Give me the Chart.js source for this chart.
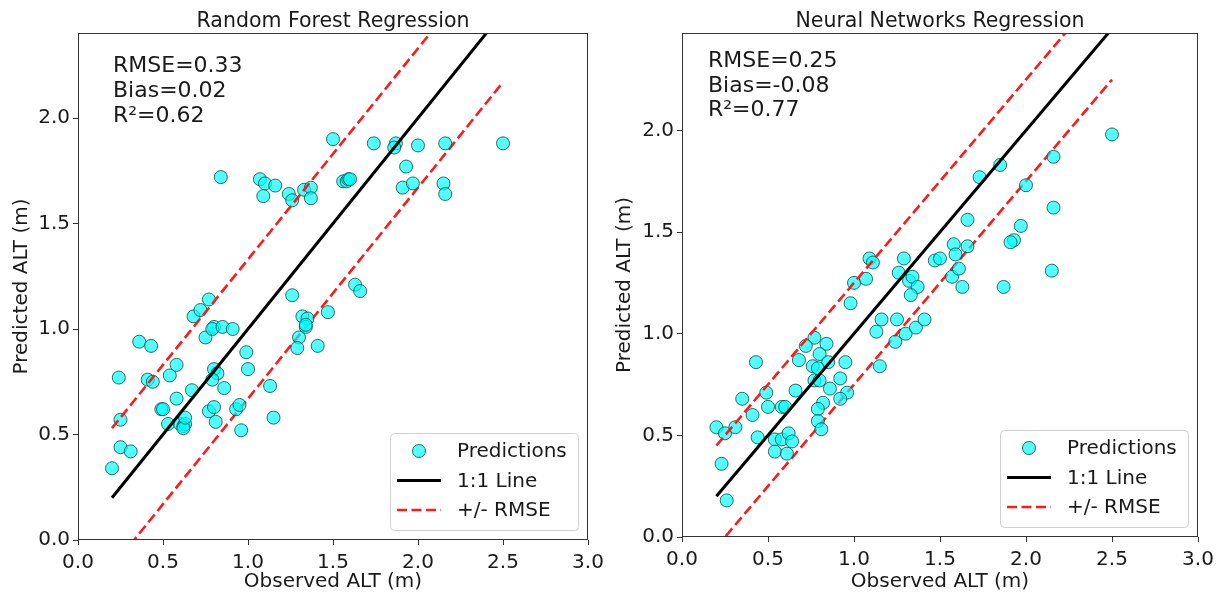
<!DOCTYPE html>
<html>
<head>
<meta charset="utf-8">
<script src="https://cdn.jsdelivr.net/npm/chart.js@4.4.0/dist/chart.umd.min.js"></script>
<style>
  html, body { margin: 0; padding: 0; background: #fff; }
  #wrap { display: flex; width: 1220px; height: 592px; }
</style>
</head>
<body>
<div id="wrap">
  <canvas id="chart-rf" width="610" height="592"></canvas>
  <canvas id="chart-nn" width="610" height="592"></canvas>
</div>
<script>
// Random Forest: observed vs predicted ALT (m)
const rfObserved = [0.20, 0.25, 0.31, 0.25, 0.24, 0.36, 0.43, 0.41, 0.44, 0.54,
    0.58, 0.49, 0.50, 0.58, 0.67, 0.53, 0.60, 0.62, 0.63, 0.62,
    0.63, 0.68, 0.72, 0.77, 0.75, 0.80, 0.79, 0.85, 0.91, 0.80,
    0.82, 0.79, 0.86, 0.77, 0.80, 0.81, 0.93, 0.95, 0.96, 0.99,
    1.00, 1.13, 1.15, 1.26, 1.32, 1.35, 1.34, 1.34, 1.30, 1.29,
    1.41, 1.47, 1.63, 1.66, 0.84, 1.07, 1.10, 1.09, 1.16, 1.24,
    1.26, 1.33, 1.37, 1.37, 1.50, 1.56, 1.58, 1.59, 1.60, 1.74,
    1.87, 1.86, 2.00, 2.16, 2.50, 1.93, 1.91, 1.97, 2.15, 2.16];
const rfPredicted = [0.34, 0.44, 0.42, 0.57, 0.77, 0.94, 0.92, 0.76, 0.75, 0.78,
    0.83, 0.62, 0.62, 0.67, 0.71, 0.55, 0.55, 0.54, 0.55, 0.53,
    0.58, 1.06, 1.09, 1.14, 0.96, 1.01, 1.00, 1.01, 1.00, 0.81,
    0.79, 0.76, 0.72, 0.61, 0.63, 0.56, 0.62, 0.64, 0.52, 0.89,
    0.81, 0.73, 0.58, 1.16, 1.06, 1.05, 1.01, 1.02, 0.96, 0.91,
    0.92, 1.08, 1.21, 1.18, 1.72, 1.71, 1.69, 1.63, 1.68, 1.64,
    1.61, 1.66, 1.67, 1.62, 1.90, 1.70, 1.70, 1.71, 1.71, 1.88,
    1.88, 1.86, 1.87, 1.88, 1.88, 1.77, 1.67, 1.69, 1.69, 1.64];

// Neural Networks: observed vs predicted ALT (m)
const nnObserved = [1.09, 1.11, 1.29, 1.26, 1.32, 1.34, 1.37, 1.33, 1.00, 1.07,
    0.98, 1.47, 1.50, 1.58, 1.57, 2.50, 2.16, 1.85, 1.73, 2.00,
    2.16, 1.66, 1.97, 1.66, 1.59, 1.61, 1.63, 1.93, 1.91, 1.87,
    2.15, 1.16, 1.13, 1.25, 1.24, 1.30, 1.36, 1.41, 1.15, 0.77,
    0.72, 0.84, 0.80, 0.85, 0.95, 0.68, 0.43, 0.76, 0.79, 0.77,
    0.80, 0.92, 0.86, 0.96, 0.92, 0.66, 0.49, 0.35, 0.50, 0.58,
    0.60, 0.41, 0.82, 0.79, 0.79, 0.81, 0.20, 0.25, 0.31, 0.44,
    0.54, 0.58, 0.62, 0.64, 0.54, 0.61, 0.23, 0.26];
const nnPredicted = [1.37, 1.35, 1.37, 1.30, 1.26, 1.28, 1.23, 1.19, 1.25, 1.27,
    1.15, 1.36, 1.37, 1.44, 1.28, 1.98, 1.87, 1.83, 1.77, 1.73,
    1.62, 1.56, 1.53, 1.43, 1.39, 1.32, 1.23, 1.46, 1.45, 1.23,
    1.31, 1.07, 1.01, 1.07, 0.96, 1.00, 1.03, 1.07, 0.84, 0.98,
    0.94, 0.95, 0.90, 0.86, 0.86, 0.87, 0.86, 0.84, 0.83, 0.77,
    0.77, 0.78, 0.73, 0.71, 0.68, 0.72, 0.71, 0.68, 0.64, 0.64,
    0.64, 0.60, 0.66, 0.63, 0.57, 0.53, 0.54, 0.51, 0.54, 0.49,
    0.48, 0.48, 0.51, 0.47, 0.42, 0.41, 0.36, 0.18];

const rfStats = ['RMSE=0.33', 'Bias=0.02', 'R\u00B2=0.62'];
const nnStats = ['RMSE=0.25', 'Bias=-0.08', 'R\u00B2=0.77'];
const rfRmse = 0.33;
const nnRmse = 0.25;

// 1:1 line spans the observed range
const lineRange = [0.2, 2.5];

const xTickValues = [0, 0.5, 1, 1.5, 2, 2.5, 3];
const yTickValues = [0, 0.5, 1, 1.5, 2];
const legendLabels = ['Predictions', '1:1 Line', '+/- RMSE'];

const FONT = '"DejaVu Sans", "Liberation Sans", sans-serif';
const TEXT = '#1a1a1a';
const AXIS = '#333';

const pointFill = 'rgba(0, 255, 255, 0.68)';
const pointEdge = 'rgba(10, 70, 70, 0.8)';

// title, frame, stats text and legend, placed relative to the axes box
const panelDecor = {
    id: 'panelDecor',
    afterDatasetsDraw(chart, args, opts) {
        const { ctx, chartArea: a } = chart;
        ctx.save();

        ctx.strokeStyle = AXIS;
        ctx.lineWidth = 1;
        ctx.strokeRect(Math.round(a.left) + 0.5, Math.round(a.top) + 0.5,
            Math.round(a.right - a.left) - 1, Math.round(a.bottom - a.top) - 1);

        ctx.fillStyle = TEXT;
        ctx.font = '20.5px ' + FONT;
        ctx.textAlign = 'center';
        ctx.textBaseline = 'alphabetic';
        ctx.fillText(opts.title, (a.left + a.right) / 2, a.top - 6);

        ctx.font = '22px ' + FONT;
        ctx.textAlign = 'left';
        opts.stats.forEach((t, i) => {
            ctx.fillText(t, a.left + opts.statsX, a.top + opts.statsY + i * opts.statsGap);
        });

        // legend box
        const w = 188, h = 97;
        const bx = a.right - 10 - w, by = a.bottom - 10 - h;
        ctx.beginPath();
        ctx.roundRect(bx + 0.5, by + 0.5, w, h, 4);
        ctx.fillStyle = 'rgba(255,255,255,0.85)';
        ctx.fill();
        ctx.strokeStyle = '#d0d0d0';
        ctx.lineWidth = 1;
        ctx.stroke();

        const rows = [by + 18, by + 47.5, by + 77];
        const ds = chart.data.datasets;

        ctx.beginPath();
        ctx.arc(bx + 29, rows[0], 6.5, 0, Math.PI * 2);
        ctx.fillStyle = ds[2].backgroundColor;
        ctx.fill();
        ctx.strokeStyle = ds[2].borderColor;
        ctx.lineWidth = 1;
        ctx.stroke();

        ctx.beginPath();
        ctx.moveTo(bx + 7, rows[1]);
        ctx.lineTo(bx + 51, rows[1]);
        ctx.strokeStyle = ds[0].borderColor;
        ctx.lineWidth = ds[0].borderWidth;
        ctx.stroke();

        ctx.beginPath();
        ctx.setLineDash(ds[1].borderDash);
        ctx.moveTo(bx + 7, rows[2]);
        ctx.lineTo(bx + 51, rows[2]);
        ctx.strokeStyle = ds[1].borderColor;
        ctx.lineWidth = ds[1].borderWidth;
        ctx.stroke();
        ctx.setLineDash([]);

        ctx.fillStyle = TEXT;
        ctx.font = '20px ' + FONT;
        ctx.textBaseline = 'middle';
        legendLabels.forEach((t, i) => ctx.fillText(t, bx + 67, rows[i] + 1));

        ctx.restore();
    }
};

function makeChart(canvasId, cfg) {
    const rmseLine = sign => lineRange.map(v => ({ x: v, y: v + sign * cfg.rmse }));
    const ctx = document.getElementById(canvasId).getContext('2d');

    return new Chart(ctx, {
        type: 'scatter',
        data: {
            datasets: [
                {
                    label: '1:1 Line',
                    data: lineRange.map(v => ({ x: v, y: v })),
                    showLine: true,
                    borderColor: '#000',
                    borderWidth: 3,
                    pointRadius: 0,
                    clip: 0
                },
                {
                    label: '+/- RMSE',
                    data: rmseLine(1),
                    showLine: true,
                    borderColor: '#ff1a1a',
                    borderWidth: 2.6,
                    borderDash: [10, 4.5],
                    pointRadius: 0,
                    clip: 0
                },
                {
                    label: 'Predictions',
                    data: cfg.observed.map((x, i) => ({ x: x, y: cfg.predicted[i] })),
                    backgroundColor: pointFill,
                    borderColor: pointEdge,
                    borderWidth: 1,
                    pointRadius: 6.5
                },
                {
                    label: '_lower',
                    data: rmseLine(-1),
                    showLine: true,
                    borderColor: '#ff1a1a',
                    borderWidth: 2.6,
                    borderDash: [10, 4.5],
                    pointRadius: 0,
                    clip: 0
                }
            ]
        },
        options: {
            responsive: false,
            animation: false,
            layout: { padding: { left: 0, right: 22, top: 33, bottom: 0 } },
            plugins: {
                legend: { display: false },
                tooltip: { enabled: false },
                title: { display: false },
                panelDecor: {
                    title: cfg.title,
                    stats: cfg.stats,
                    statsX: cfg.statsX,
                    statsY: cfg.statsY,
                    statsGap: cfg.statsGap
                }
            },
            scales: {
                x: {
                    type: 'linear',
                    min: 0,
                    max: 3,
                    border: { display: false },
                    grid: { drawOnChartArea: false, drawTicks: true, tickLength: 5, color: AXIS },
                    ticks: {
                        color: TEXT,
                        font: { family: FONT, size: 20 },
                        padding: 6,
                        maxRotation: 0,
                        autoSkip: false,
                        callback: v => Number(v).toFixed(1)
                    },
                    afterBuildTicks: s => { s.ticks = xTickValues.map(v => ({ value: v })); },
                    afterFit: s => { s.height = cfg.xAxisHeight; s.paddingLeft = 0; s.paddingRight = 0; },
                    title: {
                        display: true,
                        text: 'Observed ALT (m)',
                        color: TEXT,
                        font: { family: FONT, size: 20, lineHeight: 1 },
                        padding: { top: 0, bottom: 0 }
                    }
                },
                y: {
                    type: 'linear',
                    min: 0,
                    max: cfg.yMax,
                    border: { display: false },
                    grid: { drawOnChartArea: false, drawTicks: true, tickLength: 5, color: AXIS },
                    ticks: {
                        color: TEXT,
                        font: { family: FONT, size: 20 },
                        padding: 3,
                        autoSkip: false,
                        callback: v => Number(v).toFixed(1)
                    },
                    afterBuildTicks: s => { s.ticks = yTickValues.map(v => ({ value: v })); },
                    afterFit: s => { s.width = cfg.yAxisWidth; s.paddingTop = 0; s.paddingBottom = 0; },
                    title: {
                        display: true,
                        text: 'Predicted ALT (m)',
                        color: TEXT,
                        font: { family: FONT, size: 20 },
                        padding: { top: cfg.yTitlePad, bottom: 0 }
                    }
                }
            }
        },
        plugins: [panelDecor]
    });
}

makeChart('chart-rf', {
    title: 'Random Forest Regression',
    observed: rfObserved,
    predicted: rfPredicted,
    rmse: rfRmse,
    stats: rfStats,
    statsX: 35, statsY: 39, statsGap: 25,
    yMax: 2.403,
    yAxisWidth: 78,
    xAxisHeight: 52,
    yTitlePad: 10
});

makeChart('chart-nn', {
    title: 'Neural Networks Regression',
    observed: nnObserved,
    predicted: nnPredicted,
    rmse: nnRmse,
    stats: nnStats,
    statsX: 26, statsY: 34, statsGap: 24.5,
    yMax: 2.479,
    yAxisWidth: 72,
    xAxisHeight: 55,
    yTitlePad: 3
});
</script>
</body>
</html>
